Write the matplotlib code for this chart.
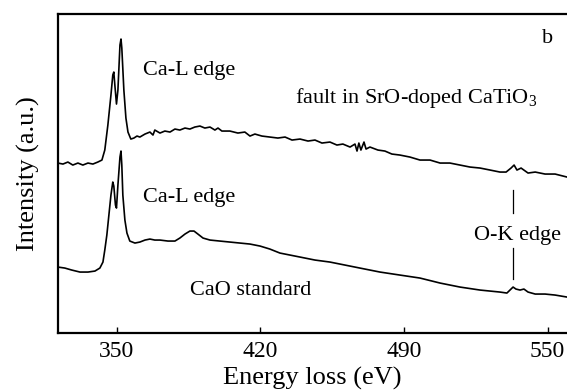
import matplotlib
matplotlib.use("Agg")
import matplotlib.pyplot as plt

plt.rcParams.update({"font.family": "Liberation Serif", "mathtext.fontset": "custom",
                     "mathtext.rm": "Liberation Serif", "mathtext.it": "Liberation Serif:italic",
                     "mathtext.default": "regular"})

# fault in SrO-doped CaTiO3 (upper spectrum), energy (eV) / intensity (a.u.)
fault_e = [321.2, 323.7, 326.1, 328.5, 331.0, 333.4, 335.9, 338.3, 340.7, 342.7,
           344.1, 345.6, 347.1, 348.0, 348.5, 349.0, 349.8, 350.5, 351.5, 352.0,
           352.4, 353.4, 354.4, 355.4, 356.8, 358.3, 359.8, 361.2, 363.7, 366.1,
           367.6, 368.5, 371.0, 373.4, 375.9, 378.3, 380.7, 383.2, 385.6, 388.0,
           390.5, 392.9, 395.4, 397.8, 399.3, 401.2, 405.1, 409.0, 412.4, 414.9,
           417.3, 420.7, 424.6, 428.5, 432.0, 435.4, 439.3, 443.2, 446.6, 450.0,
           453.9, 457.3, 460.2, 463.7, 466.1, 467.1, 468.0, 469.0, 470.5, 471.5,
           473.4, 477.3, 480.7, 484.1, 488.0, 492.9, 497.8, 502.7, 507.6, 512.4,
           517.3, 522.2, 527.1, 532.0, 536.8, 539.8, 542.2, 543.7, 545.1, 547.1,
           550.5, 554.0, 558.8, 563.7, 569.5]
fault_i = [170, 169, 171, 168, 170, 168, 170, 169, 171, 173,
           183, 208, 238, 258, 261, 248, 229, 243, 288, 294,
           285, 243, 215, 201, 194, 195, 197, 196, 199, 201,
           198, 203, 200, 202, 201, 204, 203, 205, 204, 206,
           207, 205, 206, 203, 205, 202, 202, 200, 201, 197,
           199, 197, 196, 195, 196, 193, 194, 192, 193, 190,
           191, 188, 189, 186, 189, 182, 190, 183, 191, 184,
           186, 183, 182, 179, 178, 176, 173, 173, 170, 170,
           168, 166, 165, 163, 161, 161, 165, 168, 163, 165,
           160, 161, 159, 159, 156]

# CaO standard (lower spectrum)
cao_e = [321.2, 324.6, 328.0, 332.0, 335.9, 339.3, 341.7, 343.2, 344.1, 345.1,
         346.1, 347.1, 348.0, 348.5, 349.3, 349.8, 350.5, 351.5, 352.0, 352.4,
         352.9, 353.9, 354.9, 356.3, 358.8, 361.2, 363.7, 366.1, 368.5, 371.0,
         374.9, 378.3, 380.7, 383.2, 385.6, 387.6, 389.5, 392.0, 395.4, 400.2,
         405.1, 410.0, 414.9, 419.8, 424.6, 429.5, 434.4, 439.3, 446.6, 453.9,
         461.2, 468.5, 478.3, 488.0, 497.8, 507.6, 517.3, 527.1, 536.8, 540.2,
         541.7, 543.2, 544.6, 546.6, 548.5, 550.5, 554.0, 558.8, 563.7, 569.5]
cao_i = [66, 65, 63, 61, 61, 62, 65, 71, 83, 98,
         118, 138, 151, 147, 128, 125, 148, 176, 182, 168,
         138, 113, 100, 92, 90, 91, 93, 94, 93, 93,
         92, 92, 95, 99, 102, 102, 99, 95, 93, 92,
         91, 90, 89, 87, 84, 80, 78, 76, 73, 71,
         68, 65, 61, 58, 55, 50, 46, 43, 41, 40,
         43, 46, 44, 43, 44, 41, 39, 39, 38, 36]

tick_pos = [350, 420, 490, 560]
tick_labels = ["350", "420", "490", "550"]
ok_edge_e = 543.2
ok_upper = [120, 143]
ok_lower = [54, 85]

fig = plt.figure(figsize=(5.67, 3.9), dpi=100)
ax = fig.add_axes([0.102, 0.146, 0.898, 0.818])
ax.plot(fault_e, fault_i, color="k", lw=1.2)
ax.plot(cao_e, cao_i, color="k", lw=1.2)
ax.plot([ok_edge_e, ok_edge_e], ok_upper, color="k", lw=0.9)
ax.plot([ok_edge_e, ok_edge_e], ok_lower, color="k", lw=0.9)

fs = 16
ax.text(362.7, 263, "Ca-L edge", fontsize=fs, va="center", ha="left")
ax.text(362.7, 136, "Ca-L edge", fontsize=fs, va="center", ha="left")
ax.text(436.8, 235, "fault in SrO-doped CaTiO$_3$", fontsize=fs, va="center", ha="left")
ax.text(559.8, 295, "b", fontsize=fs, va="center", ha="center")
ax.text(545.5, 98, "O-K edge", fontsize=fs, va="center", ha="center")
ax.text(385.6, 43, "CaO standard", fontsize=fs, va="center", ha="left")

ax.set_xlim(321.2, 569.5)
ax.set_ylim(0, 319)
ax.set_xticks(tick_pos)
ax.set_xticklabels(tick_labels)
ax.set_yticks([])
ax.tick_params(axis="x", direction="in", length=4, width=1, labelsize=17, pad=6)
ax.spines["right"].set_visible(False)
for s in ("left", "top", "bottom"):
    ax.spines[s].set_linewidth(1.6)
ax.set_xlabel("Energy loss (eV)", fontsize=19, labelpad=3)
ax.set_ylabel("Intensity (a.u.)", fontsize=19, labelpad=13)

fig.savefig("out.png", dpi=100)
